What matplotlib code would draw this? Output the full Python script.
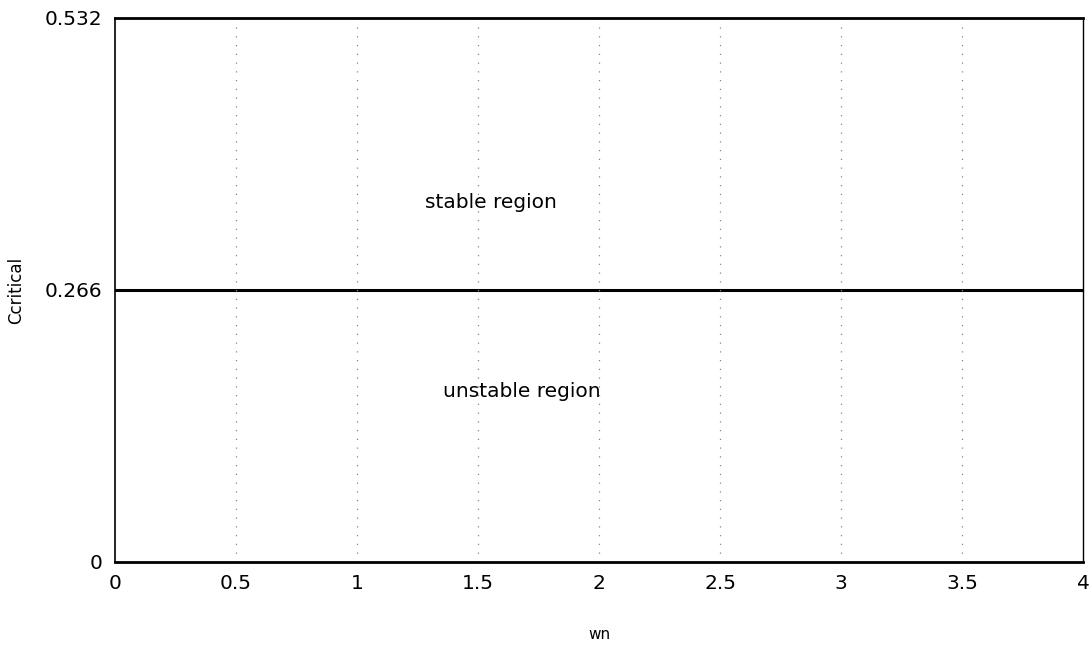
import matplotlib.pyplot as plt

# valores do grafico
wn = [0, 0.5, 1, 1.5, 2, 2.5, 3, 3.5, 4]
ccritical = [0.266, 0.266, 0.266, 0.266, 0.266, 0.266, 0.266, 0.266, 0.266]
yticks = [0, 0.266, 0.532]
xticks = [0, 0.5, 1, 1.5, 2, 2.5, 3, 3.5, 4]
xticklabels = ["0", "0.5", "1", "1.5", "2", "2.5", "3", "3.5", "4"]

fig = plt.figure(figsize=(10.89, 6.45), dpi=100)
ax = fig.add_axes([0.1056, 0.1287, 0.889, 0.8434])

ax.plot(wn, ccritical, color="k", linewidth=2.2)

ax.set_xlim(0, 4)
ax.set_ylim(0, 0.532)
ax.set_xticks(xticks)
ax.set_xticklabels(xticklabels)
ax.set_yticks(yticks)
ax.set_yticklabels(["0", "0.266", "0.532"])
ax.tick_params(length=0, labelsize=14.5, pad=9)

# grade vertical pontilhada
for x in xticks[1:-1]:
    ax.axvline(x, color="#888888", linestyle=(0, (1, 6)), linewidth=0.9)

for lado, lw in [("top", 2.0), ("bottom", 2.0), ("left", 1.2), ("right", 1.0)]:
    ax.spines[lado].set_linewidth(lw)

ax.text(1.28, 0.352, "stable region", fontsize=14.5, va="center")
ax.text(1.355, 0.167, "unstable region", fontsize=14.5, va="center")

ax.set_xlabel("wn", fontsize=11, va="center")
ax.set_ylabel("Ccritical", fontsize=12, va="center")
ax.xaxis.set_label_coords(0.5, -0.134)
ax.yaxis.set_label_coords(-0.102, 0.5)

plt.savefig("out.png", dpi=100)
